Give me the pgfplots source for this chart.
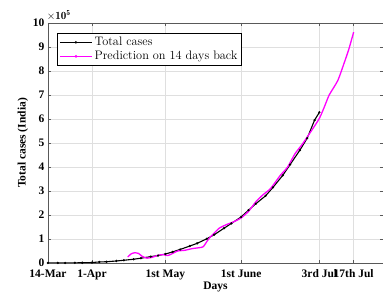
\documentclass[border=0pt]{standalone}
\usepackage{pgfplots}
\pgfplotsset{compat=1.18}
\usepackage{fontspec}
\newfontfamily\tnr{Liberation Serif}
\definecolor{mag}{RGB}{255,0,255}
\begin{document}
\begin{tikzpicture}
\useasboundingbox (-48pt,-33pt) rectangle (335pt,263pt);
\begin{axis}[
  at={(0,0)}, anchor=south west,
  scale only axis, width=335pt, height=240pt,
  xmin=0, xmax=137, ymin=0, ymax=1000000,
  xtick={0,18,48,79,111,125},
  xticklabels={14-Mar,1-Apr,1st May,1st June,3rd Jul,17th Jul},
  ytick={0,100000,200000,300000,400000,500000,600000,700000,800000,900000,1000000},
  scaled y ticks=base 10:-5,
  ytick scale label code/.code={$\mathbf{\times 10^{5}}$},
  every y tick scale label/.style={at={(yticklabel cs:1,0pt)},anchor=south west,inner sep=0pt,yshift=2pt,xshift=17pt,font=\fontsize{11}{12}\selectfont},
  /pgf/number format/assume math mode=true,
  ticklabel style={font=\tnr\bfseries\fontsize{11.5}{12}\selectfont},
  xticklabel style={yshift=-3pt},
  xlabel={Days}, ylabel={Total cases (India)},
  label style={font=\tnr\bfseries\fontsize{11.5}{12}\selectfont},
  xlabel style={yshift=4pt},
  ylabel style={yshift=-2pt},
  grid=major, major grid style={gray!25, line width=0.6pt},
  axis line style={gray!70!black, line width=0.6pt},
  tick style={gray!70!black, line width=0.6pt},
  tick align=inside, major tick length=3pt,
  legend style={at={(0.027,0.958)},anchor=north west, draw=black, line width=0.5pt,
    font=\fontsize{12.3}{13}\selectfont, inner sep=2pt, row sep=0pt, cells={anchor=west}},
  legend cell align=left,
  legend image code/.code={\draw[#1] (0pt,0pt) -- (32pt,0pt); \fill[#1] (16pt,0pt) circle (0.6pt);},
]
\addplot[black, line width=1.1pt, mark=*, mark size=0.5pt] coordinates {
(0,100) (4,140) (7,330) (11,720) (14,990) (18,1998) (21,4300) (24,5300) (28,8400)
(31,11400) (35,15700) (38,20000) (42,26500) (45,31000) (48,37300) (51,46400)
(54,56300) (58,70700) (61,81900) (65,101100) (68,118000) (72,145000) (75,165000)
(79,192000) (82,220000) (85,247000) (89,280000) (92,315000) (96,365000) (99,410000)
(103,470000) (106,520000) (109,595000) (111,628000)
};
\addlegendentry{Total cases}
\addplot[color=mag, line width=1.3pt, smooth, tension=0.4] coordinates {
(32.6,25000) (34,38000) (35.6,43000) (37,40000) (38.5,28000) (40.5,20000) (43,25000)
(45,32000) (47,35000) (49,31000) (51,40000) (53,50000) (56,53000) (59,60000)
(62,64000) (63.5,68000) (65,90000) (66.5,110000) (68,125000) (70,145000)
(73,160000) (76,172000) (79,188000) (82,215000) (85,255000) (88,285000)
(91,310000) (95,365000) (98,400000) (101,455000) (104,495000) (108,555000)
(111,603000) (113,650000) (115,700000) (118.5,760000) (121,830000) (123,890000) (125,962000)
};
\addlegendentry{Prediction on 14 days back}
\end{axis}
\end{tikzpicture}
\end{document}
